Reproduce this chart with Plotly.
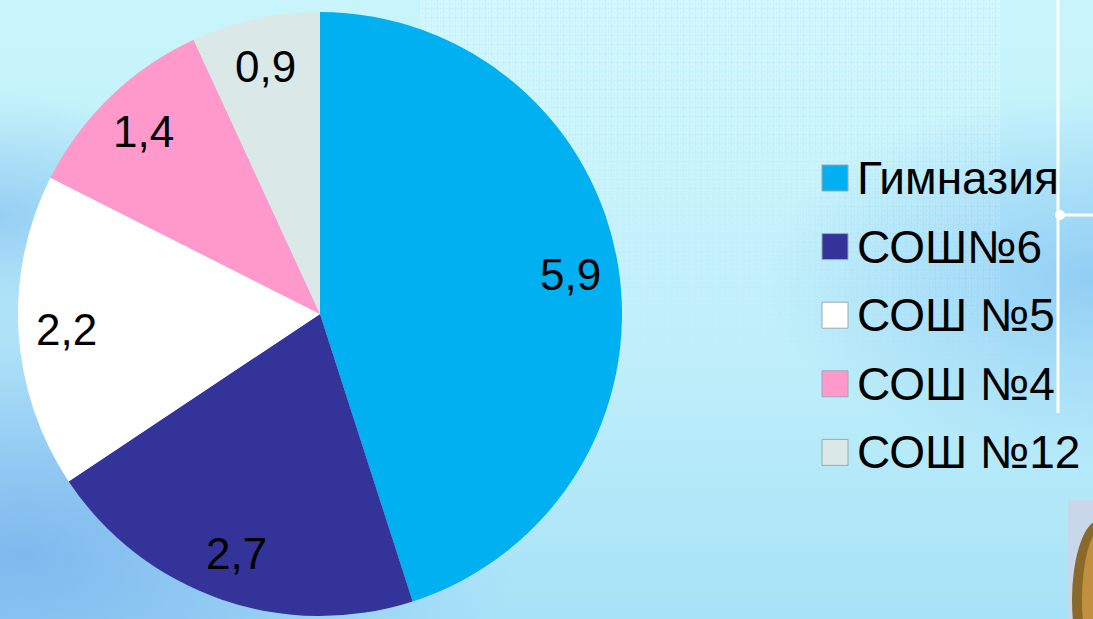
import base64
import numpy as np
import plotly.graph_objects as go

labels = ["Гимназия", "СОШ№6", "СОШ №5", "СОШ №4", "СОШ №12"]
values = [5.9, 2.7, 2.2, 1.4, 0.9]
colors = ["#00b0f0", "#333399", "#ffffff", "#ff99cc", "#dbe8e8"]

W, H = 1093, 619
cx, cy, r = 320, 314, 302
label_r = 0.84

# ---- background picture (gradient + faint binary-like texture) ----
svg = f"""<svg xmlns='http://www.w3.org/2000/svg' width='{W}' height='{H}' viewBox='0 0 {W} {H}'>
<defs>
<linearGradient id='g' x1='0' y1='0' x2='0' y2='1'>
<stop offset='0' stop-color='#c8f5fb'/><stop offset='0.6' stop-color='#bdeefa'/><stop offset='1' stop-color='#a8e2f8'/></linearGradient>
<radialGradient id='b' cx='0.02' cy='0.9' r='0.45'>
<stop offset='0' stop-color='#7cb6ee' stop-opacity='0.95'/><stop offset='1' stop-color='#7cb6ee' stop-opacity='0'/></radialGradient>
<radialGradient id='c' cx='1.0' cy='0.45' r='0.3'>
<stop offset='0' stop-color='#8ccaf4' stop-opacity='0.9'/><stop offset='1' stop-color='#8ccaf4' stop-opacity='0'/></radialGradient>
<radialGradient id='d' cx='0.0' cy='0.35' r='0.2'>
<stop offset='0' stop-color='#8cc6f2' stop-opacity='0.8'/><stop offset='1' stop-color='#8cc6f2' stop-opacity='0'/></radialGradient>
<pattern id='p' width='6' height='9' patternUnits='userSpaceOnUse'>
<rect x='1' y='1' width='3' height='6' fill='none' stroke='#ffffff' stroke-width='0.8' stroke-opacity='0.55'/></pattern>
<linearGradient id='f' x1='0' y1='0' x2='0' y2='1'>
<stop offset='0' stop-color='white' stop-opacity='1'/><stop offset='1' stop-color='white' stop-opacity='0'/></linearGradient>
<mask id='m'><rect x='420' y='0' width='580' height='440' fill='url(#f)'/></mask>
</defs>
<rect width='{W}' height='{H}' fill='url(#g)'/>
<rect width='{W}' height='{H}' fill='url(#b)'/>
<rect width='{W}' height='{H}' fill='url(#c)'/>
<rect width='{W}' height='{H}' fill='url(#d)'/>
<rect x='420' y='0' width='580' height='440' fill='url(#p)' mask='url(#m)'/>
<line x1='1058' y1='0' x2='1058' y2='413' stroke='#ffffff' stroke-width='3'/>
<line x1='1058' y1='215' x2='{W}' y2='215' stroke='#ffffff' stroke-width='3'/>
<circle cx='1060' cy='215' r='5' fill='#ffffff'/>
<rect x='1068' y='500' width='30' height='130' fill='#c8d8ea'/>
<ellipse cx='1100' cy='600' rx='28' ry='80' fill='#8a6a2a'/>
<ellipse cx='1104' cy='600' rx='22' ry='74' fill='#c09040'/>
</svg>"""
bg = "data:image/svg+xml;base64," + base64.b64encode(svg.encode("utf-8")).decode("ascii")

fig = go.Figure()
fig.add_trace(go.Pie(
    labels=labels, values=values, sort=False, direction="clockwise", rotation=0,
    marker=dict(colors=colors, line=dict(width=0)),
    textinfo="none",
    domain=dict(x=[(cx - r) / W, (cx + r) / W], y=[(H - cy - r) / H, (H - cy + r) / H]),
    showlegend=False, hoverinfo="label+value",
))

# value labels, placed at the middle angle of each slice
vals = np.array(values)
mids = (np.cumsum(vals) - vals / 2) / vals.sum() * 2 * np.pi
annotations = []
for v, a in zip(values, mids):
    px = cx + label_r * r * np.sin(a)
    py = cy - label_r * r * np.cos(a)
    annotations.append(dict(xref="paper", yref="paper", x=px / W, y=(H - py) / H,
                            xanchor="center", yanchor="middle", showarrow=False,
                            text=f"{v:.1f}".replace(".", ","),
                            font=dict(family="Liberation Sans, Arial", size=44, color="#000000")))

# legend
shapes = []
x0, y0, step, sq = 822, 178, 68.6, 26
for i, (lab, col) in enumerate(zip(labels, colors)):
    yc = y0 + i * step
    shapes.append(dict(type="rect", xref="paper", yref="paper",
                       x0=x0 / W, x1=(x0 + sq) / W,
                       y0=(H - yc - sq / 2) / H, y1=(H - yc + sq / 2) / H,
                       fillcolor=col, line=dict(color="#9aa8b0", width=1)))
    annotations.append(dict(xref="paper", yref="paper", x=(x0 + 33) / W, y=(H - yc) / H,
                            xanchor="left", yanchor="middle", showarrow=False, text=lab,
                            font=dict(family="Liberation Sans, Arial", size=46, color="#000000")))

fig.update_layout(
    width=W, height=H, margin=dict(l=0, r=0, t=0, b=0),
    paper_bgcolor="#bdebf8", plot_bgcolor="#bdebf8",
    separators=", ", shapes=shapes, annotations=annotations,
    images=[dict(source=bg, xref="paper", yref="paper", x=0, y=1, sizex=1, sizey=1,
                 xanchor="left", yanchor="top", sizing="stretch", layer="below")],
)
fig.write_html("out.html", config={"displayModeBar": False},
               post_script="document.body.style.margin='0';document.body.style.overflow='hidden';")
